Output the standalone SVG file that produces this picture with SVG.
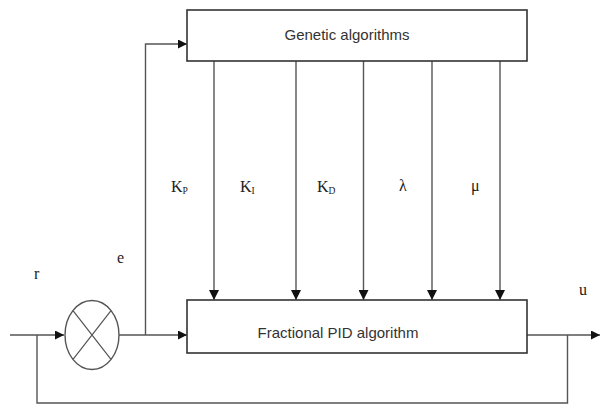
<svg xmlns="http://www.w3.org/2000/svg" width="600" height="405" viewBox="0 0 600 405">
<style>
.box{fill:#fff;stroke:#333;stroke-width:1.6}
.ln{fill:none;stroke:#555;stroke-width:1.4}
.lbl{font-family:"Liberation Sans",Arial,sans-serif;font-size:15px;fill:#333;text-anchor:middle}
.sym{font-family:"Liberation Serif","Times New Roman",serif;font-size:16px;fill:#222}
.sub{font-size:9.5px}
</style>
<defs>
<marker id="ar" viewBox="0 0 10 10" refX="10" refY="5" markerWidth="9" markerHeight="9" markerUnits="userSpaceOnUse" orient="auto">
<path d="M0,0 L10,5 L0,10 Z" fill="#111"/>
</marker>
<marker id="arv" viewBox="0 0 10 10" refX="10" refY="5" markerWidth="11" markerHeight="10" markerUnits="userSpaceOnUse" orient="auto">
<path d="M0,0 L10,5 L0,10 Z" fill="#111"/>
</marker>
</defs>
<g id="connectors">
<path class="ln" d="M10,335 H64" marker-end="url(#ar)"/>
<path class="ln" d="M119,335 H187" marker-end="url(#ar)"/>
<path class="ln" d="M145.5,335 V44 H187" marker-end="url(#ar)"/>
<path class="ln" d="M214,61 V300" marker-end="url(#arv)"/>
<path class="ln" d="M296,61 V300" marker-end="url(#arv)"/>
<path class="ln" d="M363.5,61 V300" marker-end="url(#arv)"/>
<path class="ln" d="M432,61 V300" marker-end="url(#arv)"/>
<path class="ln" d="M500,61 V300" marker-end="url(#arv)"/>
<path class="ln" d="M527,335 H600" marker-end="url(#ar)"/>
<path class="ln" d="M567.5,335 V403 H37 V335"/>
</g>
<g id="ga">
<rect class="box" x="187" y="10" width="340" height="51"/>
<text class="lbl" x="347" y="40">Genetic algorithms</text>
</g>
<g id="fpid">
<rect class="box" x="187" y="300" width="340" height="53"/>
<text class="lbl" x="338" y="338">Fractional PID algorithm</text>
</g>
<g id="sum">
<ellipse cx="92" cy="335" rx="27" ry="34.5" fill="#fff" stroke="#555" stroke-width="1.4"/>
<path d="M73,310.6 L111,359.4 M111,310.6 L73,359.4" stroke="#555" stroke-width="1.2" fill="none"/>
</g>
<g id="labels">
<text class="sym" x="171" y="192">K<tspan class="sub" dy="2">P</tspan></text>
<text class="sym" x="240" y="192">K<tspan class="sub" dy="2">I</tspan></text>
<text class="sym" x="317" y="192">K<tspan class="sub" dy="2">D</tspan></text>
<text class="sym" x="399" y="191">λ</text>
<text class="sym" x="471" y="191">μ</text>
<text class="sym" x="34" y="279">r</text>
<text class="sym" x="117" y="263">e</text>
<text class="sym" x="579" y="295">u</text>
</g>
</svg>
